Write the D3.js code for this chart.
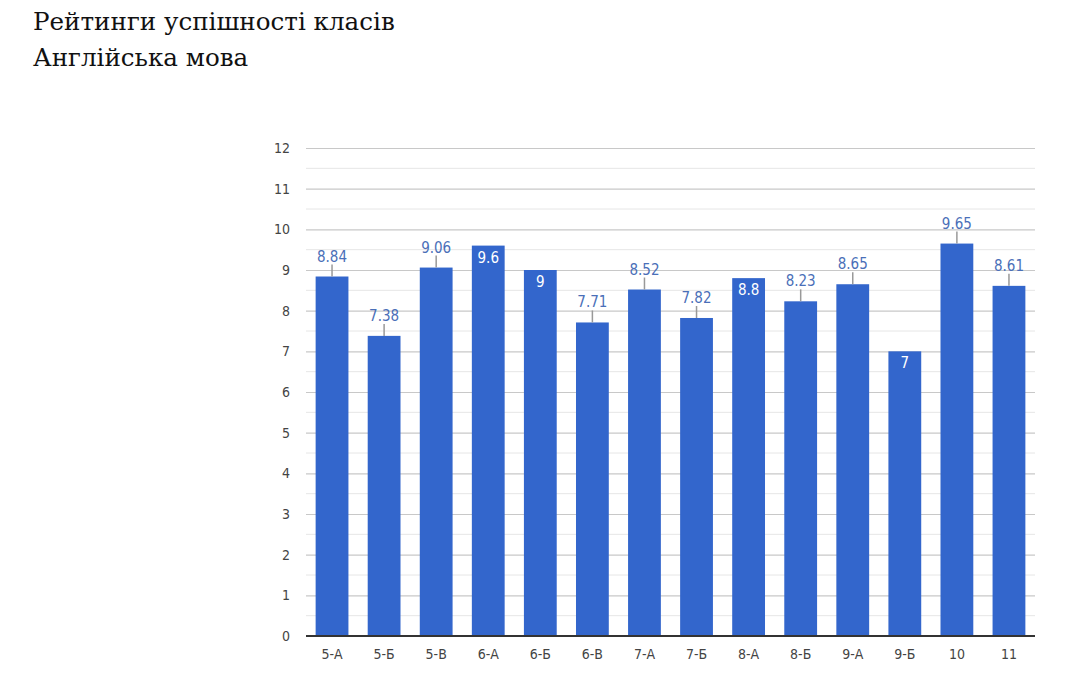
<!DOCTYPE html>
<html>
<head>
<meta charset="utf-8">
<script src="https://cdn.jsdelivr.net/npm/d3@7"></script>
<style>
  body { margin: 0; background: #fff; }
</style>
</head>
<body>
<svg width="1072" height="682"></svg>
<script>
var classes = ["5-А", "5-Б", "5-В", "6-А", "6-Б", "6-В", "7-А", "7-Б", "8-А", "8-Б", "9-А", "9-Б", "10", "11"];
var scores = [8.84, 7.38, 9.06, 9.6, 9, 7.71, 8.52, 7.82, 8.8, 8.23, 8.65, 7, 9.65, 8.61];
// labels drawn inside the bar in the original
var inside = [false, false, false, true, true, false, false, false, true, false, false, true, false, false];
var yTicks = [0, 1, 2, 3, 4, 5, 6, 7, 8, 9, 10, 11, 12];

var condensed = "'DejaVu Sans Condensed', 'DejaVu Sans', sans-serif";

var svg = d3.select("svg");
var margin = {top: 148, left: 306, right: 37, bottom: 46};
var width = 1072 - margin.left - margin.right,
    height = 682 - margin.top - margin.bottom;

svg.selectAll(".title").data(["Рейтинги успішності класів", "Англійська мова"]).enter().append("text")
    .attr("x", 33).attr("y", (d, i) => 30 + i * 36)
    .attr("font-family", "'DejaVu Serif', serif").attr("font-size", 24.6).attr("fill", "#111")
    .text(d => d);

var g = svg.append("g").attr("transform", "translate(" + margin.left + "," + margin.top + ")");

var x = d3.scaleBand().domain(classes).range([0, width]).paddingInner(0.37).paddingOuter(0.185);
var y = d3.scaleLinear().domain([0, 12]).range([height, 0]);

// minor grid
g.selectAll(".minor").data(d3.range(0.5, 12, 1)).enter().append("line")
    .attr("x1", 0).attr("x2", width)
    .attr("y1", d => y(d)).attr("y2", d => y(d))
    .attr("stroke", "#e6e6e6").attr("stroke-width", 1);

var yAxis = g.append("g").call(d3.axisLeft(y).tickValues(yTicks).tickSize(-width).tickPadding(16));
yAxis.select(".domain").remove();
yAxis.selectAll(".tick line").attr("stroke", "#c8c8c8").attr("stroke-width", 1.2);

var xAxis = g.append("g").attr("transform", "translate(0," + height + ")")
    .call(d3.axisBottom(x).tickSize(0).tickPadding(13));
xAxis.select(".domain").remove();

[yAxis, xAxis].forEach(function(a) {
    a.attr("font-family", condensed).attr("font-size", 14);
    a.selectAll(".tick text").attr("fill", "#444");
});

g.selectAll(".bar").data(scores).enter().append("rect")
    .attr("x", (d, i) => x(classes[i]))
    .attr("width", x.bandwidth())
    .attr("y", d => y(d))
    .attr("height", d => height - y(d))
    .attr("fill", "#3366cc");

g.append("line").attr("x1", 0).attr("x2", width).attr("y1", height).attr("y2", height)
    .attr("stroke", "#333").attr("stroke-width", 2);

scores.forEach(function(d, i) {
    var cx = x(classes[i]) + x.bandwidth() / 2;
    if (inside[i]) {
        g.append("text").attr("x", cx).attr("y", y(d) + 17)
            .attr("font-family", condensed).attr("font-size", 15)
            .attr("text-anchor", "middle").attr("fill", "#fff").text(d);
    } else {
        g.append("line").attr("x1", cx).attr("x2", cx).attr("y1", y(d)).attr("y2", y(d) - 12)
            .attr("stroke", "#999").attr("stroke-width", 1.5);
        g.append("text").attr("x", cx).attr("y", y(d) - 15)
            .attr("font-family", condensed).attr("font-size", 15)
            .attr("text-anchor", "middle").attr("fill", "#4a6fb8").text(d);
    }
});
</script>
</body>
</html>
